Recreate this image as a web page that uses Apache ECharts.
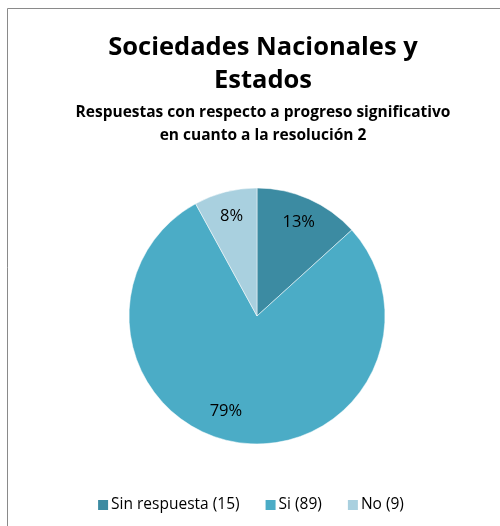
<!DOCTYPE html>
<html><head><meta charset="utf-8">
<script src="https://cdn.jsdelivr.net/npm/echarts@6/dist/echarts.min.js"></script>
<style>html,body{margin:0;padding:0;background:#fff}#c{width:500px;height:526px}</style>
</head><body><div id="c"></div>
<script>
const categories = ['Sin respuesta (15)', 'Si (89)', 'No (9)'];
const values = [15, 89, 9];
const colors = ['#3C8BA2', '#4BACC6', '#A9D0DF'];
const titleText = 'Sociedades Nacionales y\nEstados';
const subtitleText = 'Respuestas con respecto a progreso significativo\nen cuanto a la resolución 2';

const font = '"Open Sans", Lato, sans-serif';
const data = categories.map((n, i) => ({ name: n, value: values[i], itemStyle: { color: colors[i] } }));
const chart = echarts.init(document.getElementById('c'));
chart.setOption({
  animation: false,
  backgroundColor: '#fff',
  title: {
    text: titleText, subtext: subtitleText, left: 258, textAlign: 'center', top: 26,
    textStyle: { fontFamily: font, fontSize: 25.5, fontWeight: 'bold', color: '#000', lineHeight: 33 },
    subtextStyle: { fontFamily: font, fontSize: 15.5, fontWeight: 'bold', color: '#000', lineHeight: 23 },
    itemGap: 4
  },
  legend: {
    bottom: 8, left: 'center', itemWidth: 12, itemHeight: 12, itemGap: 24,
    icon: 'rect', selectedMode: false,
    data: categories.map((n, i) => ({ name: n, itemStyle: { color: colors[i] } })),
    textStyle: { fontFamily: font, fontSize: 15.5, color: '#000', padding: [0, 0, 0, -3] }
  },
  graphic: [{ type: 'rect', shape: { x: 7.5, y: 8.5, width: 520, height: 540 }, style: { fill: 'none', stroke: '#8a8a8a', lineWidth: 1 }, silent: true }],
  series: [
    { type: 'pie', center: [257, 316], radius: [0, 128], startAngle: 90, clockwise: true,
      data: data, label: { show: false }, labelLine: { show: false }, silent: true,
      itemStyle: { borderColor: '#fff', borderWidth: 0.5 } },
    { type: 'pie', center: [257, 316], radius: [72, 128], startAngle: 90, clockwise: true,
      data: categories.map((n, i) => ({ name: n, value: values[i], label: i === 1 ? { offset: [-14, -6] } : {} })),
      silent: true, legendHoverLink: false,
      itemStyle: { color: 'rgba(0,0,0,0)' },
      label: { show: true, position: 'inside', fontFamily: font, fontSize: 16.5, color: '#000',
        formatter: p => Math.round(p.percent) + '%' },
      labelLine: { show: false } }
  ]
});
</script></body></html>
